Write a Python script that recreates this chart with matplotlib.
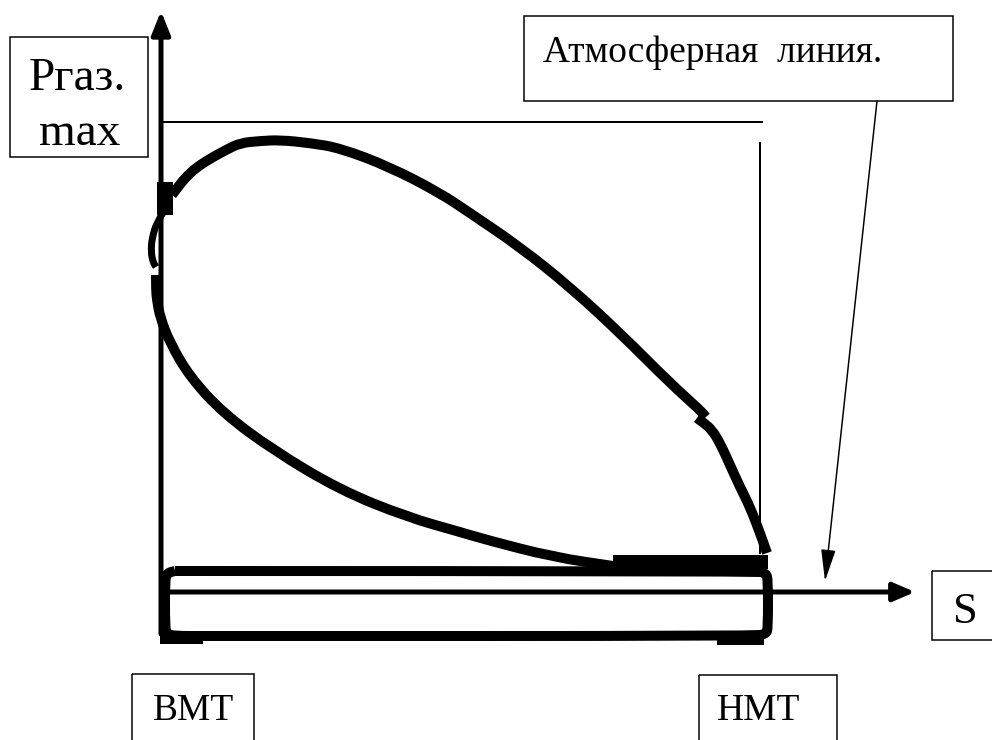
import matplotlib.pyplot as plt
from matplotlib.patches import Rectangle, PathPatch
from matplotlib.path import Path

plt.rcParams['font.family'] = ['Liberation Serif', 'DejaVu Serif']

# Curves of the indicator diagram (pixel units, y down).
expansion_x = [172, 180, 190, 200, 213, 226, 240, 260, 280, 310, 340, 390, 440, 470, 520, 570, 620, 670, 700, 706]
expansion_y = [195, 184, 173, 165, 157, 150, 143, 141, 140, 143, 148, 167, 193, 213, 247, 287, 333, 383, 410, 417]

exhaust_start_x = [697, 704, 712, 720, 730, 740, 750, 760, 767]
exhaust_start_y = [418, 423, 430, 443, 465, 487, 507, 533, 553]

ignition_x = [164, 157, 152, 151, 153, 156]
ignition_y = [211, 222, 238, 252, 262, 267]

compression_x = [156, 156, 157, 160, 170, 190, 223, 273, 340, 407, 460, 487, 553, 613]
compression_y = [275, 290, 300, 317, 343, 377, 413, 450, 490, 517, 532, 540, 557, 566]

gas_exchange_x = [175, 755, 766, 768, 768, 766, 755, 205, 175, 167, 165, 165, 167, 175]
gas_exchange_y = [571, 571, 573, 580, 628, 634, 636, 636, 636, 634, 628, 580, 573, 571]

pz_level = 122          # P gas max reference line
bdc_s = 760             # НМТ stroke position
atm_level = 592         # atmospheric line

label_p = 'Ргаз.'
label_max = 'max'
label_atm = 'Атмосферная  линия.'
label_s = 'S'
label_tdc = 'ВМТ'
label_bdc = 'НМТ'


def smooth(xs, ys):
    # quadratic bezier through the midpoints, the read points act as controls
    verts = [(xs[0], ys[0])]
    codes = [Path.MOVETO]
    for i in range(1, len(xs) - 1):
        verts += [(xs[i], ys[i]), ((xs[i] + xs[i + 1]) / 2, (ys[i] + ys[i + 1]) / 2)]
        codes += [Path.CURVE3, Path.CURVE3]
    verts.append((xs[-1], ys[-1]))
    codes.append(Path.LINETO)
    return Path(verts, codes)


fig = plt.figure(figsize=(9.92, 7.40), dpi=100)
ax = fig.add_axes([0, 0, 1, 1])
ax.set_xlim(0, 992)
ax.set_ylim(740, 0)
ax.axis('off')

px = 0.72  # pixels -> points at 100 dpi
thick = 10 * px

# axes with arrows
ax.annotate('', xy=(161, 11), xytext=(161, 634),
            arrowprops=dict(arrowstyle='-|>,head_length=0.7,head_width=0.28',
                            lw=5 * px, color='k', shrinkA=0, shrinkB=0,
                            mutation_scale=20))
ax.annotate('', xy=(915, atm_level), xytext=(168, atm_level),
            arrowprops=dict(arrowstyle='-|>,head_length=0.65,head_width=0.28',
                            lw=5 * px, color='k', shrinkA=0, shrinkB=0,
                            mutation_scale=20))

# thin guide lines
ax.plot([161, 762], [pz_level, pz_level], color='k', lw=2 * px)
ax.plot([bdc_s, bdc_s], [143, 553], color='k', lw=2 * px)

# diagram
for xs, ys, w in [(expansion_x, expansion_y, thick),
                  (exhaust_start_x, exhaust_start_y, thick),
                  (ignition_x, ignition_y, 7 * px),
                  (compression_x, compression_y, thick),
                  (gas_exchange_x, gas_exchange_y, thick)]:
    ax.add_patch(PathPatch(smooth(xs, ys), fill=False, ec='k', lw=w,
                           capstyle='butt', joinstyle='round'))
ax.plot([160, 203], [639, 639], color='k', lw=thick, solid_capstyle='butt')
ax.plot([717, 764], [640, 640], color='k', lw=thick, solid_capstyle='butt')
ax.add_patch(Rectangle((157, 182), 16, 33, color='k', lw=0))
ax.add_patch(Rectangle((613, 555), 155, 14, color='k', lw=0))

# pointer to atmospheric line
ax.annotate('', xy=(825, 581), xytext=(877, 101),
            arrowprops=dict(arrowstyle='-|>,head_length=1.3,head_width=0.3',
                            lw=1.5 * px, color='k', shrinkA=0, shrinkB=0,
                            mutation_scale=15))

# label boxes
boxes = [(10, 37, 138, 120), (524, 16, 429, 85), (932, 571, 70, 69),
         (132, 674, 122, 80), (699, 675, 138, 80)]
for (x0, y0, w, h) in boxes:
    ax.add_patch(Rectangle((x0, y0), w, h, fill=False, ec='k', lw=1.5 * px))

ax.text(77, 90, label_p, fontsize=34, ha='center', va='baseline')
ax.text(80, 145, label_max, fontsize=34, ha='center', va='baseline')
ax.text(543, 62, label_atm, fontsize=27, ha='left', va='baseline')
ax.text(965, 623, label_s, fontsize=32, ha='center', va='baseline')
ax.text(193, 720, label_tdc, fontsize=27, ha='center', va='baseline')
ax.text(759, 720, label_bdc, fontsize=27, ha='center', va='baseline')

fig.savefig('out.png', dpi=100)
